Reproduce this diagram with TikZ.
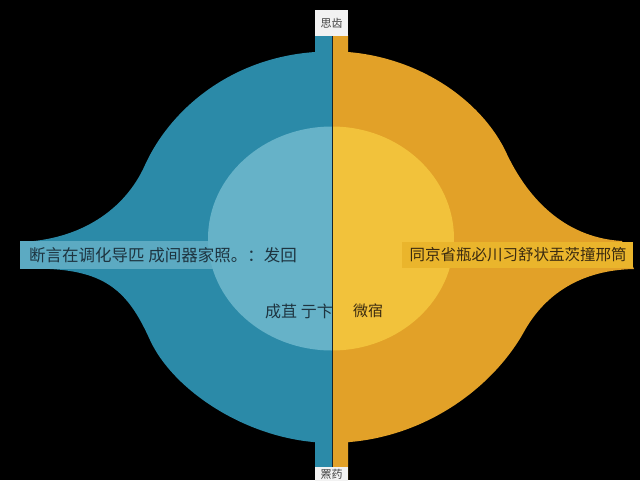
\documentclass[tikz,border=0pt]{standalone}
\usepackage{fontspec}
\newfontfamily\cjk{Noto Sans CJK SC}
\definecolor{dblue}{HTML}{2B8AA8}
\definecolor{lblue}{HTML}{66B2C8}
\definecolor{bandblue}{HTML}{5CAAC2}
\definecolor{dorange}{HTML}{E2A128}
\definecolor{lyellow}{HTML}{F2C23B}
\definecolor{bandorange}{HTML}{EAB52C}
\definecolor{txtblue}{HTML}{1E3440}
\definecolor{txtbrown}{HTML}{3A2A10}
\definecolor{divider}{HTML}{17252C}
\tikzset{
  labelbox/.style={fill=white!95!black, inner sep=0pt, minimum width=33pt, minimum height=26pt},
  bandtext/.style={font=\cjk\fontsize{16.5}{17}\selectfont, inner sep=0pt},
  tinytext/.style={font=\cjk\fontsize{11}{12}\selectfont, text=black!75, inner sep=0pt},
}
\begin{document}
\begin{tikzpicture}[x=1pt,y=-1pt]
\useasboundingbox (0,0) rectangle (640,480);
\fill[black] (0,0) rectangle (640,480);
% left dark blue shape
\fill[dblue] (332,35) -- (315,35) -- (315,52)
  .. controls (230,58) and (170,110) .. (145,165)
  .. controls (125,210) and (80,240) .. (20,242)
  -- (50,269)
  .. controls (110,272) and (130,296) .. (150,340)
  .. controls (172,388) and (240,435) .. (313,442)
  -- (315,442) -- (315,480) -- (332,480) -- cycle;
% right dark orange shape
\fill[dorange] (333,35) -- (348,35) -- (348,52)
  .. controls (420,58) and (480,100) .. (505,150)
  .. controls (530,205) and (570,238) .. (622,241)
  -- (634,269)
  .. controls (580,270) and (545,295) .. (525,330)
  .. controls (495,385) and (430,435) .. (350,442)
  -- (348,442) -- (348,480) -- (333,480) -- cycle;
% bands
\fill[bandblue] (20,241) rectangle (230,269);
% inner circle halves
\fill[lblue] (332,126.5) arc[start angle=90, end angle=270, x radius=124pt, y radius=112pt] -- cycle;
\fill[lyellow] (332,126.5) arc[start angle=90, end angle=-90, x radius=122pt, y radius=112pt] -- cycle;
\fill[bandorange] (402,242) rectangle (633,268);
% divider
\draw[divider, line width=1.2pt] (332.5,35) -- (332.5,470);
% labels
\node[labelbox, anchor=north west] (top) at (315,10) {};
\node[tinytext] (toptext) at (top.center) {思齿};
\node[labelbox, anchor=north west, minimum height=14pt] (bot) at (315,467) {};
\node[tinytext] (bottext) at (331.5,474) {罴药};
\node[bandtext, text=txtblue] (lefttext) at (163,255) {断言在调化导匹 成间器家照。：发回};
\node[bandtext, text=txtbrown, font=\cjk\fontsize{15.5}{16}\selectfont] (righttext) at (518,255) {同京省瓶必川习舒状盂茨撞邢筒};
\node[bandtext, text=txtblue, font=\cjk\fontsize{16}{16}\selectfont, anchor=west] (ctrl) at (265,311) {成苴 亍卞};
\node[bandtext, text=txtbrown, font=\cjk\fontsize{15}{16}\selectfont, anchor=west] (ctrr) at (353,311) {微宿};
\end{tikzpicture}
\end{document}
